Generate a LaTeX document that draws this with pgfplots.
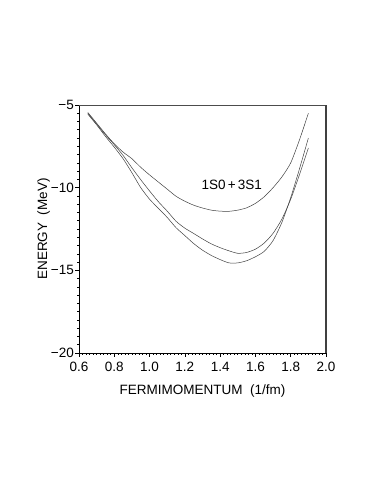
\documentclass[border=0pt]{standalone}
\usepackage{fontspec}
\setmainfont{Liberation Sans}
\usepackage{pgfplots}
\pgfplotsset{compat=1.18}

\begin{document}
\begin{tikzpicture}
\path[use as bounding box] (-79bp,-141bp) rectangle (303bp,353bp);
\begin{axis}[
    anchor=south west, at={(0,0)},
    scale only axis, width=247bp, height=248bp,
    xmin=0.6, xmax=2.0, ymin=-20, ymax=-5,
    xtick={0.6,0.8,...,2.0},
    xticklabels={0.6,0.8,1.0,1.2,1.4,1.6,1.8,2.0},
    ytick={-20,-15,-10,-5},
    yticklabels={−20,−15,−10,−5},
    minor x tick num=9, minor y tick num=9,
    tick align=outside, tick pos=left,
    major tick length=3.5bp, minor tick length=1.8bp,
    tick style={black, line width=0.6pt},
    axis line style={line width=0.9pt},
    separate axis lines,
    every outer x axis line/.append style={black},
    every outer y axis line/.append style={black},
    axis x line*=bottom, axis y line*=left,
    ticklabel style={font=\fontsize{13.5bp}{15bp}\selectfont, inner sep=1.5bp},
    xticklabel style={yshift=-4bp},
    xlabel={FERMIMOMENTUM\ \ (1/fm)},
    ylabel={ENERGY\ \ (MeV)},
    label style={font=\fontsize{13.5bp}{15bp}\selectfont},
    xlabel style={yshift=-8bp},
    ylabel style={yshift=-4bp},
    clip=false,
]
% top: 1S0+3S1
\addplot[black!75, line width=0.5pt, smooth, tension=0.4] coordinates {
(0.65,-5.45) (0.70,-6.10) (0.75,-6.75) (0.80,-7.35) (0.85,-7.85)
(0.90,-8.25) (0.95,-8.77) (1.00,-9.23) (1.05,-9.66) (1.10,-10.09)
(1.15,-10.52) (1.20,-10.82) (1.25,-11.06) (1.30,-11.23) (1.35,-11.36)
(1.40,-11.42) (1.45,-11.43) (1.50,-11.36) (1.55,-11.22) (1.60,-10.95)
(1.65,-10.55) (1.70,-10.00) (1.75,-9.35) (1.80,-8.50) (1.85,-7.10) (1.90,-5.50)};
% middle
\addplot[black!75, line width=0.5pt, smooth, tension=0.4] coordinates {
(0.65,-5.50) (0.70,-6.15) (0.75,-6.80) (0.80,-7.40) (0.85,-8.05)
(0.90,-8.80) (0.95,-9.52) (1.00,-10.20) (1.05,-10.85) (1.10,-11.42)
(1.15,-12.03) (1.20,-12.45) (1.25,-12.77) (1.30,-13.10) (1.35,-13.40)
(1.40,-13.63) (1.45,-13.82) (1.50,-13.97) (1.55,-13.92) (1.60,-13.72)
(1.65,-13.35) (1.70,-12.76) (1.75,-11.90) (1.80,-10.70) (1.85,-9.20) (1.90,-7.60)};
% bottom
\addplot[black!75, line width=0.5pt, smooth, tension=0.4] coordinates {
(0.65,-5.55) (0.70,-6.20) (0.75,-6.90) (0.80,-7.55) (0.85,-8.25)
(0.90,-9.10) (0.95,-10.00) (1.00,-10.70) (1.05,-11.25) (1.10,-11.80)
(1.15,-12.42) (1.20,-12.90) (1.25,-13.38) (1.30,-13.78) (1.35,-14.10)
(1.40,-14.35) (1.45,-14.55) (1.50,-14.55) (1.55,-14.42) (1.60,-14.18)
(1.65,-13.85) (1.70,-13.20) (1.75,-12.10) (1.80,-10.60) (1.85,-8.85) (1.90,-7.00)};
\node[font=\fontsize{13.5bp}{15bp}\selectfont] at (axis cs:1.466,-9.84) {1S0\,+\,3S1};
% top and right frame lines (grey, heavier)
\draw[black!70, line width=0.8pt] (rel axis cs:0,1) -- (rel axis cs:1,1);
\draw[black!75, line width=1.4pt] (rel axis cs:1,0) -- (rel axis cs:1,1);
\end{axis}
\end{tikzpicture}
\end{document}
